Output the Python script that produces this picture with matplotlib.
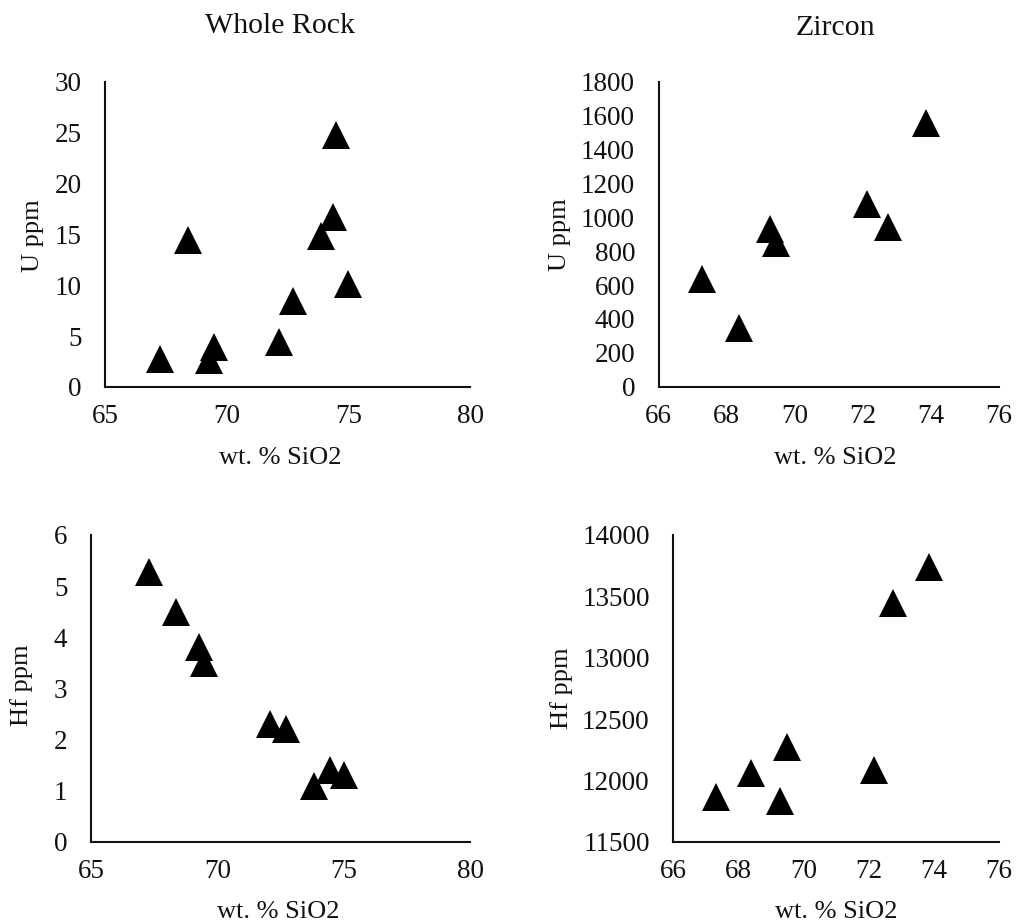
import matplotlib
matplotlib.use("Agg")
import matplotlib.pyplot as plt

plt.rcParams["font.family"] = ["Liberation Serif", "DejaVu Serif"]

# whole rock, U vs SiO2
wr_u_sio2 = [67.27, 68.40, 69.29, 69.47, 72.14, 72.71, 73.86, 74.38, 74.51, 74.97]
wr_u = [2.8, 14.45, 2.7, 3.95, 4.4, 8.5, 14.9, 16.75, 24.8, 10.1]

# whole rock, Hf vs SiO2
wr_hf_sio2 = [67.30, 68.38, 69.26, 69.48, 72.10, 72.73, 73.84, 74.44, 75.00]
wr_hf = [5.28, 4.50, 3.80, 3.50, 2.31, 2.20, 1.09, 1.40, 1.30]

# zircon, U vs SiO2
zr_u_sio2 = [67.27, 68.37, 69.26, 69.46, 72.12, 72.73, 73.85]
zr_u = [637, 345, 933, 847, 1077, 941, 1555]

# zircon, Hf vs SiO2
zr_hf_sio2 = [67.32, 68.39, 69.29, 69.49, 72.16, 72.75, 73.85]
zr_hf = [11864, 12060, 11832, 12272, 12087, 13446, 13738]

W, H = 1016, 924
fig = plt.figure(figsize=(W / 100, H / 100), dpi=100)


def px_axes(left, right, bottom, top):
    # pixel box -> figure fraction
    return fig.add_axes([left / W, 1 - bottom / H, (right - left) / W, (bottom - top) / H])


def style(ax, xlim, xticks, ylim, yticks):
    ax.set_xlim(*xlim)
    ax.set_ylim(*ylim)
    ax.set_xticks(xticks)
    ax.set_yticks(yticks)
    for s in ("top", "right"):
        ax.spines[s].set_visible(False)
    for s in ("left", "bottom"):
        ax.spines[s].set_linewidth(1.5)
        ax.spines[s].set_color("#111111")
    ax.tick_params(axis="both", length=0, labelsize=19.5, colors="#111111")
    ax.tick_params(axis="y", pad=17)
    ax.tick_params(axis="x", pad=12.5)


def tri(ax, x, y):
    ax.plot(x, y, linestyle="none", marker="^", ms=20, mew=0,
            color="black", clip_on=False)


ax1 = px_axes(105, 470, 387, 82)
tri(ax1, wr_u_sio2, wr_u)
style(ax1, (65, 80), [65, 70, 75, 80], (0, 30), range(0, 31, 5))

ax2 = px_axes(658.7, 999, 386.7, 81.7)
tri(ax2, zr_u_sio2, zr_u)
style(ax2, (66, 76), range(66, 77, 2), (0, 1800), range(0, 1801, 200))

ax3 = px_axes(91, 470, 841.7, 535)
tri(ax3, wr_hf_sio2, wr_hf)
style(ax3, (65, 80), [65, 70, 75, 80], (0, 6), range(0, 7))

ax4 = px_axes(673.3, 999, 841.7, 535)
tri(ax4, zr_hf_sio2, zr_hf)
style(ax4, (66, 76), range(66, 77, 2), (11500, 14000), range(11500, 14001, 500))

tc = "#111111"
fig.text(280 / W, 1 - 33 / H, "Whole Rock", ha="center", va="baseline", fontsize=21.5, color=tc)
fig.text(835 / W, 1 - 35 / H, "Zircon", ha="center", va="baseline", fontsize=21.5, color=tc)

for xc, yb in [(280, 464), (835, 464), (278, 918), (836, 918)]:
    fig.text(xc / W, 1 - yb / H, "wt. % SiO2", ha="center", va="baseline", fontsize=19, color=tc)

for xc, yc, lab in [(33, 236, "U ppm"), (560, 235, "U ppm"), (22, 685, "Hf ppm"), (562, 688, "Hf ppm")]:
    fig.text(xc / W, 1 - yc / H, lab, ha="center", va="center", rotation=90, fontsize=19, color=tc)

fig.savefig("out.png", dpi=100, facecolor="white")
